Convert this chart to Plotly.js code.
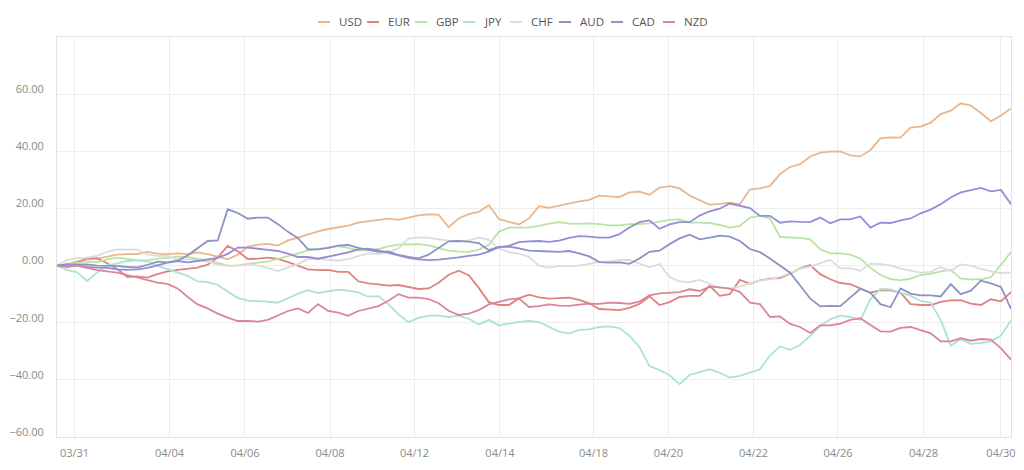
<!DOCTYPE html>
<html><head><meta charset="utf-8">
<script src="https://cdn.plot.ly/plotly-3.0.1.min.js"></script>
<style>html,body{margin:0;padding:0;background:#fff}#chart{width:1024px;height:470px}</style>
</head><body><div id="chart"></div>
<script>
const currencies = ['USD','EUR','GBP','JPY','CHF','AUD','CAD','NZD'];
const tickLabels = ['03/31','04/04','04/06','04/08','04/12','04/14','04/18','04/20','04/22','04/26','04/28','04/30'];
const tickIndex = [1.74, 11.2, 18.72, 27.19, 35.6, 44.11, 53.43, 60.89, 69.36, 77.77, 86.29, 94.0];

const USD = [0,0.3,1.5,2.2,2.4,3.2,3.8,4.0,4.0,4.8,4.2,4.0,4.3,4.0,4.6,4.0,3.2,2.2,3.8,6.6,
7.3,7.6,7.0,8.8,9.8,11.0,12.0,12.8,13.5,14.0,15.0,15.6,16.0,16.4,16.0,16.8,17.6,17.9,17.8,13.4,
16.5,18.0,18.8,21.1,16.3,15.3,14.4,16.5,20.8,20.2,21.0,21.6,22.5,23.0,24.5,24.2,24.0,25.6,25.9,24.8,
27.3,27.8,27.0,24.5,23.0,21.3,21.6,22.0,21.4,26.7,27.0,27.9,32.0,34.5,35.5,38.2,39.5,39.9,40.0,38.6,
38.2,40.4,44.5,44.9,44.8,48.3,48.6,50.0,53.0,54.2,56.8,56.0,53.4,50.5,52.5,55.0];

const EUR = [0,0.3,1.0,2.6,2.5,0.8,-1.2,-4.0,-3.8,-4.2,-3.0,-2.0,-1.5,-1.2,-0.7,0.3,2.8,6.9,5.0,2.3,
2.4,2.8,2.3,1.2,0.0,-1.3,-1.6,-1.5,-2.2,-2.2,-5.5,-6.2,-6.6,-7.0,-6.8,-7.6,-8.2,-8.0,-6.0,-3.2,
-1.8,-3.4,-7.8,-12.8,-13.8,-13.8,-11.5,-10.2,-11.1,-11.6,-11.5,-11.2,-12.0,-13.2,-15.2,-15.5,-15.6,-14.8,-13.4,-10.8,
-13.8,-12.8,-11.0,-10.6,-10.6,-7.1,-10.6,-10.0,-5.0,-6.4,-5.2,-4.6,-4.4,-2.8,-1.0,0.2,-3.0,-4.8,-6.1,-6.5,
-8.0,-9.5,-8.6,-8.7,-9.5,-13.5,-13.8,-13.8,-12.7,-12.2,-12.1,-13.3,-13.8,-11.8,-12.5,-9.3];

const GBP = [0,0.4,1.0,1.4,1.2,2.2,2.8,2.3,1.9,1.8,2.4,2.7,3.1,3.0,2.3,1.7,0.9,0.0,0.1,0.6,
1.0,1.5,2.3,3.4,4.3,5.3,5.7,6.3,6.8,6.2,5.3,5.3,5.8,6.7,7.3,7.5,7.5,7.1,6.2,5.2,
4.9,4.8,5.6,7.3,11.8,13.3,13.3,13.4,13.9,14.7,15.2,14.7,14.6,14.8,14.5,14.1,14.1,14.5,14.5,14.8,
15.4,16.0,16.2,15.0,15.0,14.9,14.2,13.3,13.9,16.8,17.4,16.5,10.0,9.8,9.7,9.2,5.7,4.3,4.3,3.8,
2.5,-0.8,-3.3,-4.7,-5.2,-4.6,-3.3,-2.9,-2.0,-1.5,-4.6,-4.8,-4.8,-4.1,0.5,4.7];

const JPY = [0,-1.5,-2.4,-5.4,-2.4,0,0.8,1.6,1.8,1.5,0,-1.2,-2.5,-3.6,-5.5,-5.8,-6.8,-9.2,-11.3,-12.3,
-12.4,-12.6,-13.0,-11.4,-9.8,-8.6,-9.6,-9.0,-8.4,-8.8,-9.4,-10.9,-10.7,-13.5,-17.0,-19.8,-18.3,-17.5,-17.5,-18.0,
-17.5,-18.6,-20.6,-19.0,-20.9,-20.3,-19.7,-19.4,-19.8,-21.4,-23.1,-23.8,-22.5,-22.3,-21.5,-21.3,-21.9,-24.6,-28.5,-35.2,
-36.6,-38.4,-41.5,-38.3,-37.2,-36.3,-37.5,-39.2,-38.6,-37.5,-36.3,-31.5,-28.3,-29.5,-27.8,-24.6,-21.1,-18.8,-17.5,-18.0,
-19.0,-11.8,-8.2,-8.3,-9.5,-10.6,-12.4,-13.0,-19.0,-28.0,-25.8,-27.4,-27.1,-26.5,-24.5,-19.2];

const CHF = [0,2.0,2.6,2.8,3.4,4.8,5.7,5.7,5.6,3.8,3.4,3.4,2.2,2.2,1.9,1.3,0.4,-0.1,0.0,0.4,
0.0,-0.8,-1.9,-0.6,0.5,2.3,2.4,2.0,1.7,2.3,3.3,4.3,4.1,4.6,6.0,9.4,9.8,9.8,9.2,8.7,
8.6,8.8,9.8,9.0,6.0,4.7,4.2,3.0,0.0,-0.7,-0.1,-0.3,0.0,0.6,1.3,1.5,1.9,2.0,0.6,-0.6,
0.5,-4.0,-5.5,-5.8,-5.0,-6.4,-7.8,-8.0,-7.4,-6.2,-5.3,-4.8,-4.0,-2.7,-1.1,-0.4,0.8,2.0,-1.0,-0.9,
-1.8,0.7,0.5,0.1,-1.1,-1.9,-2.5,-2.2,-0.5,-1.9,0.4,0.0,-1.2,-2.0,-2.6,-2.5];

const AUD = [0,0.4,0.3,0.4,0.0,-0.1,-0.1,-0.5,-0.6,0.2,1.4,1.1,1.7,3.5,6.2,8.6,8.8,19.7,18.4,16.4,
16.8,16.8,14.5,11.8,9.6,5.7,5.7,6.2,7.0,7.2,6.2,5.4,4.8,5.0,3.7,3.0,2.5,3.8,6.3,8.5,
8.6,8.4,7.9,5.4,6.5,6.6,6.0,5.2,5.1,5.0,4.8,5.1,4.3,3.2,1.2,1.0,1.1,0.6,2.5,4.8,
5.2,7.5,9.5,10.8,9.2,9.8,10.5,10.1,8.6,5.8,4.7,2.5,0.0,-2.5,-7.0,-11.5,-14.3,-14.1,-14.2,-11.0,
-8.1,-9.5,-13.5,-14.6,-8.0,-9.8,-10.4,-10.4,-10.8,-6.5,-10.0,-8.8,-5.3,-6.2,-7.5,-15.2];

const CAD = [0,0.4,0.0,-0.5,-0.7,-0.8,-1.3,-1.5,-1.3,-0.8,0.1,1.0,1.6,1.1,1.6,2.2,2.7,4.1,6.3,6.3,
6.0,5.5,5.1,4.2,3.0,3.0,2.4,3.2,3.8,4.6,5.7,5.9,5.3,4.4,3.6,2.7,2.2,1.9,2.1,2.4,
2.9,3.4,3.8,4.9,6.4,6.9,8.2,8.5,8.6,8.3,8.7,9.7,10.3,10.1,9.8,9.8,11.0,13.3,15.2,15.8,
12.9,14.4,15.2,15.2,17.5,19.0,19.9,21.7,20.8,20.1,17.4,17.4,15.0,15.5,15.3,15.2,16.8,14.8,16.2,16.2,
17.2,13.3,15.0,14.9,15.8,16.5,18.3,19.6,21.5,23.8,25.6,26.4,27.2,26.0,26.5,21.5];

const NZD = [0,-0.5,0,-0.8,-1.6,-2.0,-2.5,-3.3,-4.2,-5.0,-6.0,-6.4,-8.0,-10.9,-13.6,-15.0,-16.8,-18.2,-19.4,-19.4,
-19.6,-19.0,-17.5,-15.9,-15.0,-16.6,-13.5,-15.9,-16.5,-17.6,-15.9,-15.1,-14.2,-12.3,-10.0,-11.2,-11.2,-11.7,-13.2,-15.8,
-17.3,-16.8,-15.6,-13.6,-12.6,-11.8,-11.5,-14.5,-14.2,-13.6,-14.0,-14.1,-13.7,-13.3,-13.4,-13.0,-13.1,-13.4,-12.6,-10.4,
-9.7,-9.5,-9.3,-8.3,-8.9,-7.4,-7.6,-8.1,-9.2,-13.0,-13.5,-18.0,-17.8,-20.4,-21.5,-23.6,-20.9,-20.9,-20.3,-19.0,
-18.4,-20.8,-23.0,-23.1,-21.8,-21.5,-22.6,-23.7,-26.5,-26.5,-25.4,-26.3,-25.7,-25.9,-29.0,-32.9];

const colors = ['#ebb68a','#e08282','#b6e5a0','#ace3d3','#dcdcdc','#8b93c6','#958dd6','#da8698'];
const series = [USD, EUR, GBP, JPY, CHF, AUD, CAD, NZD];

const W = 1024, H = 470;
const M = {l: 57, r: 13, t: 37, b: 33};
const xIdx = USD.map((_, i) => i);

const traces = currencies.map((c, k) => ({
  x: xIdx, y: series[k], type: 'scatter', mode: 'lines', name: c,
  line: {color: colors[k], width: 1.8}, showlegend: false, hoverinfo: 'skip'
}));

// custom compact legend (line sample + label), laid out in pixels then converted to paper
const legendTextPx = [337, 386, 434, 482, 529, 578, 630, 682];
const legendYpx = 22;
const pw = W - M.l - M.r, ph = H - M.t - M.b;
const px2paper = p => (p - M.l) / pw;
const py2paper = p => (H - M.b - p) / ph;
const shapes = [], annotations = [];
currencies.forEach((c, k) => {
  const tx = legendTextPx[k];
  shapes.push({type: 'line', xref: 'paper', yref: 'paper',
    x0: px2paper(tx - 19), x1: px2paper(tx - 7), y0: py2paper(legendYpx), y1: py2paper(legendYpx),
    line: {color: colors[k], width: 2}});
  annotations.push({xref: 'paper', yref: 'paper', x: px2paper(tx), y: py2paper(legendYpx),
    xanchor: 'left', yanchor: 'middle', showarrow: false, text: c,
    font: {family: 'Open Sans, sans-serif', size: 11.5, color: '#555'}});
});

const layout = {
  width: W, height: H,
  margin: M,
  paper_bgcolor: '#ffffff', plot_bgcolor: '#ffffff',
  showlegend: false,
  font: {family: 'Open Sans, sans-serif', size: 11, color: '#8a8a8a'},
  xaxis: {
    range: [0, USD.length - 1], tickmode: 'array', tickvals: tickIndex, ticktext: tickLabels,
    showgrid: true, gridcolor: '#ededed', gridwidth: 1, zeroline: false,
    showline: true, linecolor: '#e2e2e2', linewidth: 1, mirror: true,
    ticks: '', ticklabelstandoff: 6, tickfont: {size: 11, color: '#8a8a8a'}
  },
  yaxis: {
    range: [-60, 80], tickmode: 'array', tickvals: [-60, -40, -20, 0, 20, 40, 60], tickformat: '.2f',
    showgrid: true, gridcolor: '#ededed', gridwidth: 1, zeroline: false,
    showline: true, linecolor: '#e2e2e2', linewidth: 1, mirror: true,
    ticks: '', ticklabelstandoff: 10, ticklabelshift: -5, tickfont: {size: 11, color: '#8a8a8a'}
  },
  shapes: shapes,
  annotations: annotations
};

Plotly.newPlot('chart', traces, layout, {displayModeBar: false, staticPlot: true});
</script>
</body></html>
